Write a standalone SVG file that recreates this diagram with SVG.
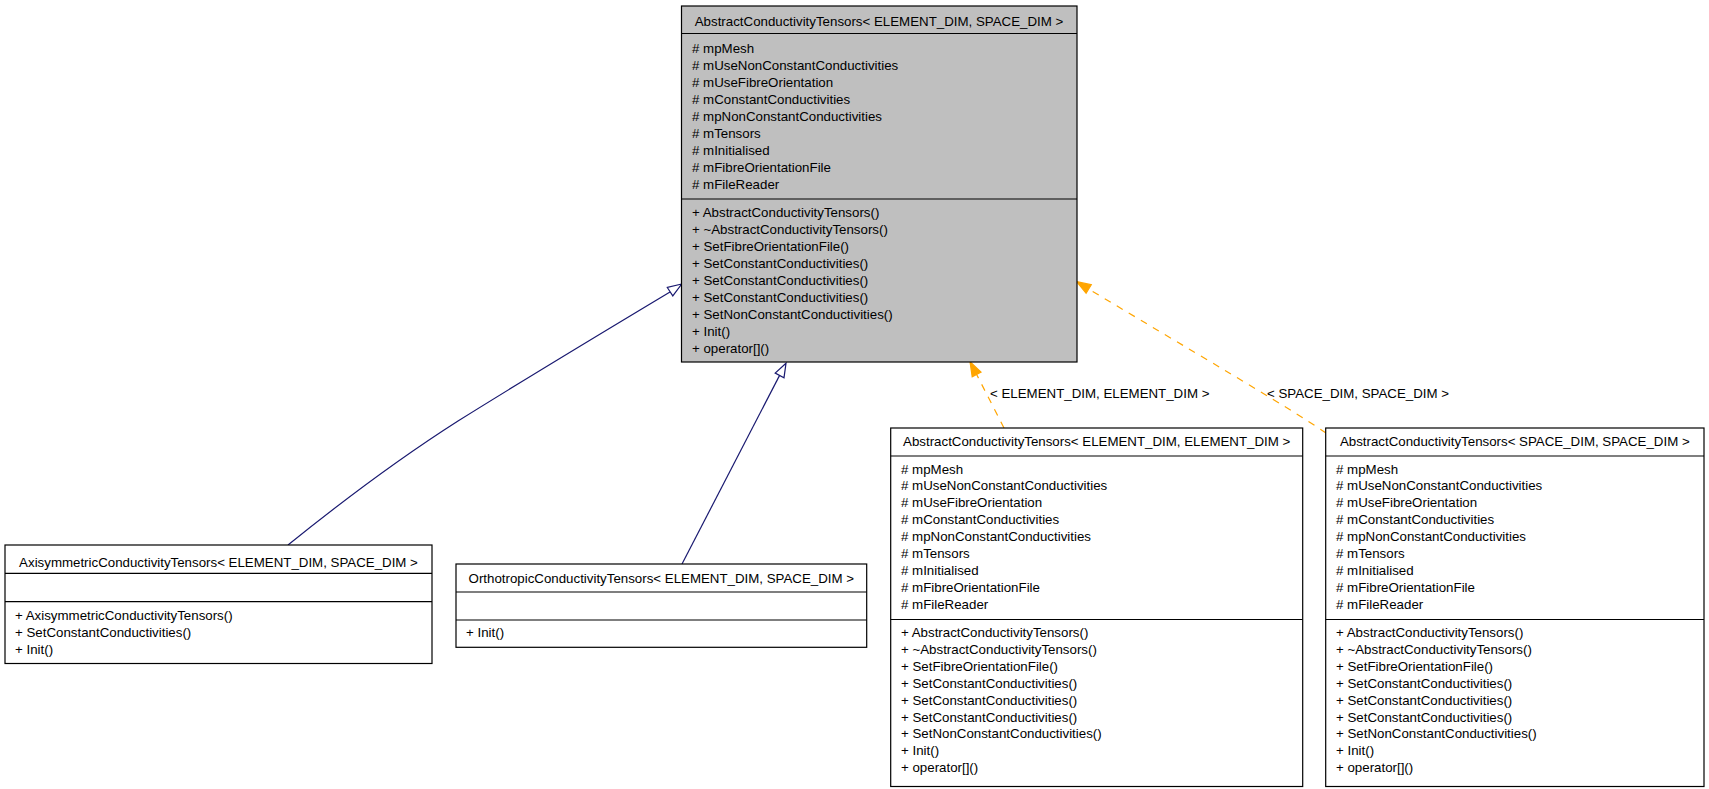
<svg xmlns="http://www.w3.org/2000/svg" width="1709" height="789" viewBox="0 0 1709 789">
<style>
text{font-family:"Liberation Sans",Arial,sans-serif;font-size:13.3px;fill:#000}
.t{text-anchor:middle}
.box{stroke:#000;stroke-width:1.2}
.base{fill:#bfbfbf}
.cls{fill:#fff}
.sep{stroke:#000;stroke-width:1.2}
.inh{fill:none;stroke:#191970;stroke-width:1.2}
.inhh{fill:#fff;stroke:#191970;stroke-width:1.2}
.tpl{fill:none;stroke:#ffa500;stroke-width:1.2;stroke-dasharray:7,7}
.tplh{fill:#ffa500;stroke:#ffa500;stroke-width:1.2}
</style>
<rect width="1709" height="789" fill="#fff"/>
<g id="connectors">
<path class="inh" d="M288,545 C340,503 400,458 458,421 C530,376 600,334 670,292"/>
<polygon class="inhh" points="681.7,284 667.3,287.5 672.8,295.9"/>
<path class="inh" d="M682,564 L779.6,375.4"/>
<polygon class="inhh" points="786,363.3 775.2,373.1 784,377.7"/>
<path class="tpl" d="M1004,428 L976.6,374.4"/>
<polygon class="tplh" points="970,361.7 981,372 972.2,376.8"/>
<text x="990" y="398">&lt; ELEMENT_DIM, ELEMENT_DIM &gt;</text>
<path class="tpl" d="M1326,433 C1285,405 1190,350 1088.7,289"/>
<polygon class="tplh" points="1076.7,281.7 1091.3,284.7 1086.1,293.3"/>
<text x="1267" y="398">&lt; SPACE_DIM, SPACE_DIM &gt;</text>
</g>
<g id="node-base">
<rect class="box base" x="681.5" y="6" width="395.5" height="356"/>
<text class="t" x="879" y="25.5">AbstractConductivityTensors&lt; ELEMENT_DIM, SPACE_DIM &gt;</text>
<line class="sep" x1="681.5" y1="33.5" x2="1077" y2="33.5"/>
<text x="692" y="53.3"># mpMesh</text>
<text x="692" y="70.2"># mUseNonConstantConductivities</text>
<text x="692" y="87.1"># mUseFibreOrientation</text>
<text x="692" y="104"># mConstantConductivities</text>
<text x="692" y="120.9"># mpNonConstantConductivities</text>
<text x="692" y="137.8"># mTensors</text>
<text x="692" y="154.7"># mInitialised</text>
<text x="692" y="171.6"># mFibreOrientationFile</text>
<text x="692" y="188.5"># mFileReader</text>
<line class="sep" x1="681.5" y1="199" x2="1077" y2="199"/>
<text x="692" y="217.3">+ AbstractConductivityTensors()</text>
<text x="692" y="234.2">+ ~AbstractConductivityTensors()</text>
<text x="692" y="251.1">+ SetFibreOrientationFile()</text>
<text x="692" y="268">+ SetConstantConductivities()</text>
<text x="692" y="284.9">+ SetConstantConductivities()</text>
<text x="692" y="301.8">+ SetConstantConductivities()</text>
<text x="692" y="318.7">+ SetNonConstantConductivities()</text>
<text x="692" y="335.6">+ Init()</text>
<text x="692" y="352.5">+ operator[]()</text>
</g>
<g id="node-axi">
<rect class="box cls" x="5" y="545" width="427" height="118.5"/>
<text class="t" x="218.5" y="566.7">AxisymmetricConductivityTensors&lt; ELEMENT_DIM, SPACE_DIM &gt;</text>
<line class="sep" x1="5" y1="573.3" x2="432" y2="573.3"/>
<line class="sep" x1="5" y1="601.7" x2="432" y2="601.7"/>
<text x="15" y="620">+ AxisymmetricConductivityTensors()</text>
<text x="15" y="637">+ SetConstantConductivities()</text>
<text x="15" y="654">+ Init()</text>
</g>
<g id="node-ortho">
<rect class="box cls" x="456" y="564" width="410.7" height="83.3"/>
<text class="t" x="661.3" y="583.3">OrthotropicConductivityTensors&lt; ELEMENT_DIM, SPACE_DIM &gt;</text>
<line class="sep" x1="456" y1="592" x2="866.7" y2="592"/>
<line class="sep" x1="456" y1="620" x2="866.7" y2="620"/>
<text x="466" y="637.3">+ Init()</text>
</g>
<g id="node-ee">
<rect class="box cls" x="890.7" y="428" width="412" height="358.5"/>
<text class="t" x="1096.7" y="445.5">AbstractConductivityTensors&lt; ELEMENT_DIM, ELEMENT_DIM &gt;</text>
<line class="sep" x1="890.7" y1="456" x2="1302.7" y2="456"/>
<text x="901" y="473.5"># mpMesh</text>
<text x="901" y="490.4"># mUseNonConstantConductivities</text>
<text x="901" y="507.3"># mUseFibreOrientation</text>
<text x="901" y="524.2"># mConstantConductivities</text>
<text x="901" y="541.1"># mpNonConstantConductivities</text>
<text x="901" y="558"># mTensors</text>
<text x="901" y="574.9"># mInitialised</text>
<text x="901" y="591.8"># mFibreOrientationFile</text>
<text x="901" y="608.7"># mFileReader</text>
<line class="sep" x1="890.7" y1="619.5" x2="1302.7" y2="619.5"/>
<text x="901" y="637">+ AbstractConductivityTensors()</text>
<text x="901" y="653.9">+ ~AbstractConductivityTensors()</text>
<text x="901" y="670.8">+ SetFibreOrientationFile()</text>
<text x="901" y="687.7">+ SetConstantConductivities()</text>
<text x="901" y="704.6">+ SetConstantConductivities()</text>
<text x="901" y="721.5">+ SetConstantConductivities()</text>
<text x="901" y="738.4">+ SetNonConstantConductivities()</text>
<text x="901" y="755.3">+ Init()</text>
<text x="901" y="772.2">+ operator[]()</text>
</g>
<g id="node-ss">
<rect class="box cls" x="1325.7" y="428" width="378.3" height="358.5"/>
<text class="t" x="1514.8" y="445.5">AbstractConductivityTensors&lt; SPACE_DIM, SPACE_DIM &gt;</text>
<line class="sep" x1="1325.7" y1="456" x2="1704" y2="456"/>
<text x="1336" y="473.5"># mpMesh</text>
<text x="1336" y="490.4"># mUseNonConstantConductivities</text>
<text x="1336" y="507.3"># mUseFibreOrientation</text>
<text x="1336" y="524.2"># mConstantConductivities</text>
<text x="1336" y="541.1"># mpNonConstantConductivities</text>
<text x="1336" y="558"># mTensors</text>
<text x="1336" y="574.9"># mInitialised</text>
<text x="1336" y="591.8"># mFibreOrientationFile</text>
<text x="1336" y="608.7"># mFileReader</text>
<line class="sep" x1="1325.7" y1="619.5" x2="1704" y2="619.5"/>
<text x="1336" y="637">+ AbstractConductivityTensors()</text>
<text x="1336" y="653.9">+ ~AbstractConductivityTensors()</text>
<text x="1336" y="670.8">+ SetFibreOrientationFile()</text>
<text x="1336" y="687.7">+ SetConstantConductivities()</text>
<text x="1336" y="704.6">+ SetConstantConductivities()</text>
<text x="1336" y="721.5">+ SetConstantConductivities()</text>
<text x="1336" y="738.4">+ SetNonConstantConductivities()</text>
<text x="1336" y="755.3">+ Init()</text>
<text x="1336" y="772.2">+ operator[]()</text>
</g>
</svg>
